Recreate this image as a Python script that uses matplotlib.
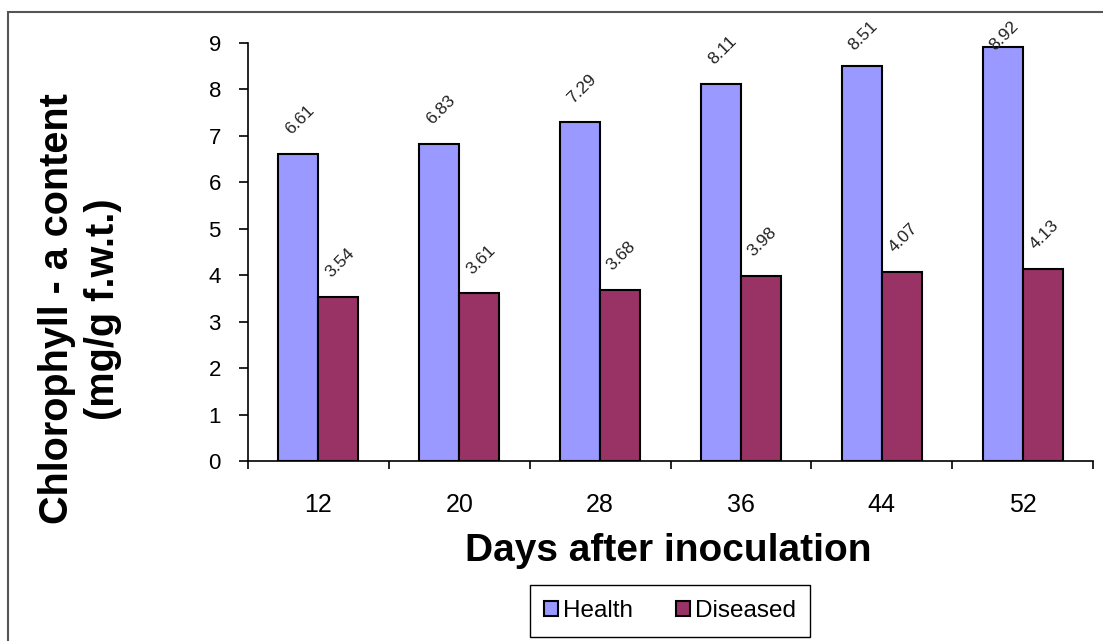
import matplotlib
matplotlib.use("Agg")
import matplotlib.pyplot as plt
from matplotlib.patches import Rectangle
from matplotlib.ticker import FixedLocator, NullFormatter
import numpy as np

plt.rcParams['font.family'] = ['Liberation Sans', 'DejaVu Sans']

days = ["12", "20", "28", "36", "44", "52"]
health = [6.61, 6.83, 7.29, 8.11, 8.51, 8.92]
diseased = [3.54, 3.61, 3.68, 3.98, 4.07, 4.13]
series_names = ["Health", "Diseased"]
y_ticks = [0, 1, 2, 3, 4, 5, 6, 7, 8, 9]

W, H = 1103, 641
fig = plt.figure(figsize=(W / 100, H / 100), dpi=100)
ax = fig.add_axes([248 / W, 1 - 461 / H, (1093 - 248) / W, (461 - 43) / H])

centers = np.arange(len(days)) + 0.5
bw = 0.284
bar_kw = dict(width=bw, edgecolor="black", linewidth=1.5, zorder=3)
b1 = ax.bar(centers - bw / 2, health, color="#9999FF", label=series_names[0], **bar_kw)
b2 = ax.bar(centers + bw / 2, diseased, color="#993366", label=series_names[1], **bar_kw)

ax.set_xlim(0, len(days))
ax.set_ylim(0, 9)

# value labels, tilted, kept inside the chart area near the top
for xs, vals in ((centers - bw / 2, health), (centers + bw / 2, diseased)):
    for x, v in zip(xs, vals):
        ty = min(v + 0.73, 9.15)
        ax.annotate(f"{v:.2f}", xy=(x, v), xytext=(x + 0.01, ty), textcoords="data",
                    ha="center", va="center", rotation=45, fontsize=12.5,
                    color="#222222", annotation_clip=False)

for s in ("top", "right"):
    ax.spines[s].set_visible(False)
for s in ("left", "bottom"):
    ax.spines[s].set_linewidth(1.2)
    ax.spines[s].set_color("black")

ax.set_yticks(y_ticks)
ax.tick_params(axis="y", direction="out", length=6.5, width=1.2, pad=13,
               labelsize=16, colors="black")

# category boundaries as ticks, labels centred on the categories
ax.xaxis.set_major_locator(FixedLocator(np.arange(len(days) + 1)))
ax.xaxis.set_major_formatter(NullFormatter())
ax.xaxis.set_minor_locator(FixedLocator(centers))
ax.set_xticklabels(days, minor=True)
ax.tick_params(axis="x", which="major", direction="out", length=6, width=1.2)
ax.tick_params(axis="x", which="minor", length=0, pad=23, labelsize=18)

fig.text(80 / W, 1 - 309 / H, "Chlorophyll - a content\n(mg/g f.w.t.)",
         rotation=90, ha="center", va="center", multialignment="center",
         fontsize=28.5, fontweight="bold", linespacing=1.25)
fig.text(668 / W, 1 - 551 / H, "Days after inoculation",
         ha="center", va="center", fontsize=28, fontweight="bold")

leg = fig.legend(handles=[b1, b2], loc="center", bbox_to_anchor=(670 / W, 1 - 611 / H),
                 ncol=2, frameon=True, fancybox=False, framealpha=1,
                 edgecolor="black", fontsize=17.5, handlelength=0.55, handleheight=0.55,
                 handletextpad=0.2, columnspacing=1.8, borderpad=0.6, borderaxespad=0)
leg.get_frame().set_linewidth(1.0)

# outer chart border
fig.add_artist(Rectangle((8 / W, -0.1), 1.2, (H - 12) / H + 0.1,
                         transform=fig.transFigure, fill=False,
                         edgecolor="#555555", linewidth=1.5))

fig.savefig("out.png", dpi=100)
